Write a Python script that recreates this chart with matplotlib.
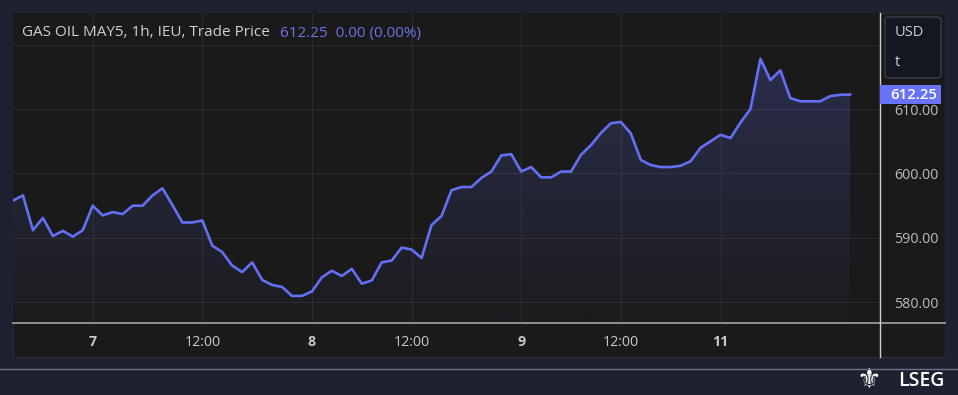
import numpy as np
import matplotlib
matplotlib.use("Agg")
import matplotlib.pyplot as plt
from matplotlib.patches import Rectangle, FancyBboxPatch
from matplotlib.lines import Line2D
from matplotlib.colors import to_rgb

plt.rcParams['font.family'] = ['Open Sans', 'DejaVu Sans']

# ---- data ----
prices = [595.8, 596.6, 591.2, 593.1, 590.3, 591.1, 590.2, 591.2, 595.0, 593.5,
          594.0, 593.7, 595.0, 595.0, 596.6, 597.7, 595.1, 592.4, 592.4, 592.7,
          588.8, 587.8, 585.7, 584.7, 586.2, 583.5, 582.7, 582.4, 581.0, 581.0,
          581.7, 583.9, 584.9, 584.1, 585.2, 582.9, 583.4, 586.2, 586.5, 588.5,
          588.2, 586.9, 592.0, 593.4, 597.4, 597.9, 597.9, 599.3, 600.3, 602.8,
          603.0, 600.3, 601.0, 599.4, 599.4, 600.3, 600.3, 602.9, 604.4, 606.3,
          607.8, 608.0, 606.2, 602.1, 601.3, 601.0, 601.0, 601.2, 601.9, 604.0,
          605.0, 606.0, 605.5, 607.9, 610.0, 617.8, 614.5, 616.0, 611.7, 611.2,
          611.2, 611.2, 612.0, 612.2, 612.25]
tick_pos = [8, 19, 30, 40, 51, 61, 71]
tick_labels = ["7", "12:00", "8", "12:00", "9", "12:00", "11"]
bold_labels = {"7", "8", "9", "11"}
y_ticks = [580, 590, 600, 610, 620]
title = "GAS OIL MAY5, 1h, IEU, Trade Price"
last_price = 612.25
change_text = "0.00 (0.00%)"

# ---- style ----
W, H = 958, 395
outer_bg = '#1e2130'
panel_bg = '#1a1a1a'
line_color = '#6370f3'
grid_color = '#2b2b2b'

fig = plt.figure(figsize=(W / 100, H / 100), dpi=100, facecolor=outer_bg)

def fx(px):
    return px / W

def fy(py):
    return 1 - py / H

# panel
fig.add_artist(Rectangle((fx(13), fy(357)), fx(932), 344 / H, transform=fig.transFigure,
                         facecolor=panel_bg, edgecolor='#262936', lw=1, zorder=0))

ax = fig.add_axes([fx(13), fy(323), fx(867), 310 / H])
ax.set_facecolor(panel_bg)

x = np.arange(len(prices))
ymin, ymax = 576.8, 624.9
xmin, xmax = 0, 87

ax.plot(x, prices, color=line_color, lw=1.9, zorder=3, solid_joinstyle='round')
poly = ax.fill_between(x, prices, ymin, color='none', lw=0)
grad = np.zeros((256, 1, 4))
grad[:, :, :3] = to_rgb(line_color)
grad[:, 0, 3] = np.linspace(0.27, 0.02, 256)
im = ax.imshow(grad, aspect='auto', extent=[x[0], x[-1], ymin, ymax],
               origin='upper', zorder=1, interpolation='bilinear')
im.set_clip_path(poly.get_paths()[0], ax.transData)

ax.set_xlim(xmin, xmax)
ax.set_ylim(ymin, ymax)

ax.set_xticks(tick_pos, tick_labels)
ax.tick_params(axis='x', length=0, pad=9, labelcolor='#c8c8c8', labelsize=10.3)
for lab in ax.get_xticklabels():
    if lab.get_text() in bold_labels:
        lab.set_fontweight('bold')

ax.yaxis.tick_right()
ax.set_yticks(y_ticks, [f"{v:.2f}" for v in y_ticks])
ax.tick_params(axis='y', length=0, pad=10, labelcolor='#bdbdbd', labelsize=10.3)

ax.grid(color=grid_color, lw=0.8)
ax.set_axisbelow(True)
for s in ax.spines.values():
    s.set_visible(False)

# axis lines
fig.add_artist(Line2D([fx(13), fx(945)], [fy(323), fy(323)], transform=fig.transFigure,
                      color='#9a9a9a', lw=1.3, zorder=5))
fig.add_artist(Line2D([fx(880), fx(880)], [fy(13), fy(357)], transform=fig.transFigure,
                      color='#d0d0d0', lw=1.0, zorder=5))

# separator line
fig.add_artist(Line2D([0, 1], [fy(369), fy(369)], transform=fig.transFigure,
                      color='#70737e', lw=1.0, zorder=5))

# title
t1 = fig.text(fx(22), fy(33), title, color='#d0d0d0', fontsize=11, va='center', ha='left')
fig.canvas.draw()
bb = t1.get_window_extent()
fig.text((bb.x1 + 10) / W, fy(33), f"{last_price:.2f}  {change_text}", color='#6b74e8',
         fontsize=11, va='center', ha='left')

# USD / t box
fig.add_artist(FancyBboxPatch((fx(885), fy(78)), fx(56), 61 / H, transform=fig.transFigure,
                              boxstyle='round,pad=0,rounding_size=0.006',
                              facecolor='#131722', edgecolor='#3a3d4a', lw=1, zorder=6))
fig.text(fx(895), fy(33), "USD", color='#d0d0d0', fontsize=10.5, va='center', ha='left', zorder=7)
fig.text(fx(895), fy(63), "t", color='#d0d0d0', fontsize=10.5, va='center', ha='left', zorder=7)

# last price label
ypix = ax.transData.transform((0, last_price))[1]
box_h = 19
fig.add_artist(Rectangle((fx(880), (ypix - box_h / 2) / H), fx(61), box_h / H,
                         transform=fig.transFigure, facecolor='#6872f6', edgecolor='none', zorder=6))
fig.text(fx(890), ypix / H, f"{last_price:.2f}", color='white', fontsize=10.8,
         fontweight='semibold', va='center', ha='left', zorder=7)

# logo
fig.text(fx(869), fy(380), "\u269c", color='white', fontsize=20, va='center', ha='center',
         family='DejaVu Sans')
fig.text(fx(945), fy(381), "LSEG", color='white', fontsize=14, fontweight='semibold',
         va='center', ha='right')

fig.savefig("out.png", dpi=100, facecolor=outer_bg)
